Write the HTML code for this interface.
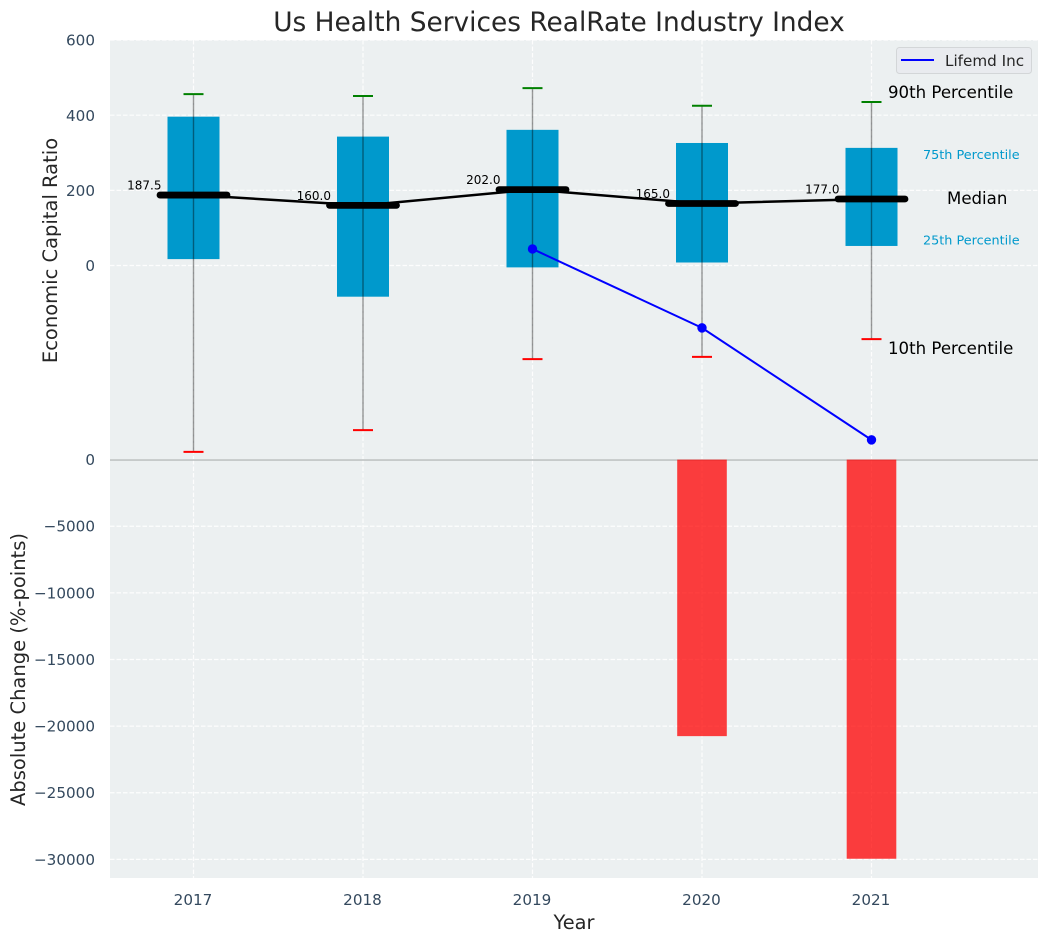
<!DOCTYPE html>
<html lang="en">
<head>
<meta charset="utf-8">
<title>Us Health Services RealRate Industry Index</title>
<style>
html,body{margin:0;padding:0;background:#fff;}
svg{display:block;font-family:"DejaVu Sans","Liberation Sans",sans-serif;}
</style>
</head>
<body>
<svg id="chart" width="1048" height="942" viewBox="0 0 1048 942" xmlns="http://www.w3.org/2000/svg"></svg>
<script>
const years = [2017, 2018, 2019, 2020, 2021];
const p90 = [456, 451, 472, 425, 435];
const p75 = [396, 343, 361, 326, 313];
const medians = [187.5, 160, 202, 165, 177];
const p25 = [17, -83, -5, 8, 52];
const p10 = [-496, -438, -249, -243, -196];
const companyYears = [2019, 2020, 2021];
const companyValues = [44, -166, -464];
const changeYears = [2020, 2021];
const changeValues = [-20750, -29950];
const topTicks = [600, 400, 200, 0];
const bottomTicks = [0, -5000, -10000, -15000, -20000, -25000, -30000];

const svg = document.getElementById('chart');
const NS = 'http://www.w3.org/2000/svg';
function x(v) { return 193.5 + (v - 2017) * 169.5; }
function yTop(v) { return 265.5 - v * 0.3758; }
function yBot(v) { return 459.6 - v * 0.013327; }
function add(tag, attrs, text) {
  const el = document.createElementNS(NS, tag);
  for (const k in attrs) el.setAttribute(k, attrs[k]);
  if (text !== undefined) el.textContent = text;
  svg.appendChild(el);
  return el;
}
let el;
const tickColor = '#34495e';
const minus = '\u2212';
function fmt(v) { return v < 0 ? minus + Math.abs(v) : String(v); }

el = add('rect', {x: 110, y: 40, width: 928, height: 419, fill: '#ecf0f1'});


el = add('rect', {x: 110, y: 460, width: 928, height: 418, fill: '#ecf0f1'});



topTicks.forEach(function (t) {
  el = add('line', {x1: 110, x2: 1038, y1: yTop(t), y2: yTop(t), stroke: '#fff', 'stroke-width': 1.2, 'stroke-dasharray': '4.5 2', opacity: 0.9});
  
  
  el = add('text', {x: 95, y: yTop(t) + 5.6, 'text-anchor': 'end', 'font-size': 15.2, fill: tickColor}, fmt(t));
  
  
});
bottomTicks.forEach(function (t) {
  if (t !== 0) {
    el = add('line', {x1: 110, x2: 1038, y1: yBot(t), y2: yBot(t), stroke: '#fff', 'stroke-width': 1.2, 'stroke-dasharray': '4.5 2', opacity: 0.9});
    
    
  }
  el = add('text', {x: 95, y: yBot(t) + 5.4, 'text-anchor': 'end', 'font-size': 15.2, fill: tickColor}, fmt(t));
  
  
});
years.forEach(function (yr) {
  el = add('line', {x1: x(yr), x2: x(yr), y1: 40, y2: 459, stroke: '#fff', 'stroke-width': 1.2, 'stroke-dasharray': '4.5 2', opacity: 0.9});
  
  
  el = add('line', {x1: x(yr), x2: x(yr), y1: 460, y2: 878, stroke: '#fff', 'stroke-width': 1.2, 'stroke-dasharray': '4.5 2', opacity: 0.9});
  
  
  el = add('text', {x: x(yr) - 0.5, y: 905, 'text-anchor': 'middle', 'font-size': 15.2, fill: tickColor}, String(yr));
  
  
});

el = add('line', {x1: 110, x2: 1038, y1: 460, y2: 460, stroke: '#b9bdbe', 'stroke-width': 1.5});



changeYears.forEach(function (yr, i) {
  const top = yBot(0);
  const bot = yBot(changeValues[i]);
  el = add('rect', {x: x(yr) - 24.8, y: top, width: 49.6, height: bot - top, fill: '#ff0000', 'fill-opacity': 0.75});
  
  
});

years.forEach(function (yr, i) {
  const cx = x(yr);
  el = add('rect', {x: cx - 26, y: yTop(p75[i]), width: 52, height: yTop(p25[i]) - yTop(p75[i]), fill: '#0099cc'});
  
  
  el = add('line', {x1: cx, x2: cx, y1: yTop(p90[i]), y2: yTop(p10[i]), stroke: '#000', 'stroke-opacity': 0.4, 'stroke-width': 1.4});
  
  
  el = add('line', {x1: cx - 10, x2: cx + 10, y1: yTop(p90[i]), y2: yTop(p90[i]), stroke: '#008000', 'stroke-width': 2});
  
  
  el = add('line', {x1: cx - 10, x2: cx + 10, y1: yTop(p10[i]), y2: yTop(p10[i]), stroke: '#ff0000', 'stroke-width': 2});
  
  
});

el = add('polyline', {points: years.map(function (yr, i) { return x(yr) + ',' + yTop(medians[i]); }).join(' '), fill: 'none', stroke: '#000', 'stroke-width': 2.5});



years.forEach(function (yr, i) {
  const cx = x(yr);
  const my = yTop(medians[i]);
  el = add('line', {x1: cx - 33.5, x2: cx + 33.5, y1: my, y2: my, stroke: '#000', 'stroke-width': 6.8, 'stroke-linecap': 'round'});
  
  
  el = add('text', {x: cx - 32, y: my - 5.5, 'text-anchor': 'end', 'font-size': 12, fill: '#000'}, medians[i].toFixed(1));
  
  
});

el = add('polyline', {points: companyYears.map(function (yr, i) { return x(yr) + ',' + yTop(companyValues[i]); }).join(' '), fill: 'none', stroke: '#0000ff', 'stroke-width': 2});


companyYears.forEach(function (yr, i) {
  el = add('circle', {cx: x(yr), cy: yTop(companyValues[i]), r: 4.7, fill: '#0000ff'});
  
  
});

el = add('text', {x: 888, y: 98, 'font-size': 16.6, fill: '#000'}, '90th Percentile');


el = add('text', {x: 923, y: 159, 'font-size': 12.8, fill: '#0099cc'}, '75th Percentile');


el = add('text', {x: 947, y: 204, 'font-size': 16.6, fill: '#000'}, 'Median');


el = add('text', {x: 923, y: 244.5, 'font-size': 12.8, fill: '#0099cc'}, '25th Percentile');


el = add('text', {x: 888, y: 354, 'font-size': 16.6, fill: '#000'}, '10th Percentile');



el = add('rect', {x: 896.5, y: 47.5, width: 135, height: 26, rx: 3, fill: '#e9ebef', stroke: '#d3d6d8', 'stroke-width': 1});


el = add('line', {x1: 901, x2: 934, y1: 60, y2: 60, stroke: '#0000ff', 'stroke-width': 2});


el = add('text', {x: 945, y: 66, 'font-size': 15.2, fill: '#262626'}, 'Lifemd Inc');



el = add('text', {x: 559, y: 31, 'text-anchor': 'middle', 'font-size': 26.4, fill: '#262626'}, 'Us Health Services RealRate Industry Index');


el = add('text', {x: 574, y: 929, 'text-anchor': 'middle', 'font-size': 19.4, fill: '#262626'}, 'Year');


el = add('text', {transform: 'translate(57,250.5) rotate(-90)', 'text-anchor': 'middle', 'font-size': 19.5, fill: '#262626'}, 'Economic Capital Ratio');


el = add('text', {transform: 'translate(25,669.5) rotate(-90)', 'text-anchor': 'middle', 'font-size': 19.5, fill: '#262626'}, 'Absolute Change (%-points)');


</script>
</body>
</html>
